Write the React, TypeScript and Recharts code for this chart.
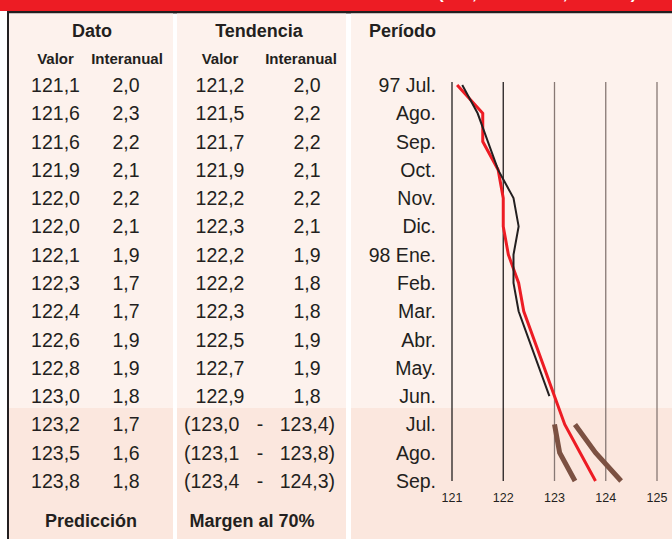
import React from 'react';
import { LineChart, Line, XAxis, YAxis, ReferenceLine } from 'recharts';

// Período (meses), valores del IPC
const periods = ['97 Jul.', 'Ago.', 'Sep.', 'Oct.', 'Nov.', 'Dic.', '98 Ene.', 'Feb.', 'Mar.', 'Abr.', 'May.', 'Jun.', 'Jul.', 'Ago.', 'Sep.'];
const datoValor = [121.1, 121.6, 121.6, 121.9, 122.0, 122.0, 122.1, 122.3, 122.4, 122.6, 122.8, 123.0, 123.2, 123.5, 123.8];
const datoInteranual = [2.0, 2.3, 2.2, 2.1, 2.2, 2.1, 1.9, 1.7, 1.7, 1.9, 1.9, 1.8, 1.7, 1.6, 1.8];
const tendValor = [121.2, 121.5, 121.7, 121.9, 122.2, 122.3, 122.2, 122.2, 122.3, 122.5, 122.7, 122.9];
const tendInteranual = [2.0, 2.2, 2.2, 2.1, 2.2, 2.1, 1.9, 1.8, 1.8, 1.9, 1.9, 1.8];
const margenInf = [123.0, 123.1, 123.4];
const margenSup = [123.4, 123.8, 124.3];
const xTicks = [121, 122, 123, 124, 125];

const predStart = tendValor.length;

const chartData = periods.map((p, i) => ({
  key: `p${i}`,
  dato: datoValor[i],
  tend: i < predStart ? tendValor[i] : null,
  lo: i >= predStart ? margenInf[i - predStart] : null,
  hi: i >= predStart ? margenSup[i - predStart] : null,
}));

const FONT = '"Liberation Sans", Arial, Helvetica, sans-serif';
const INK = '#231f20';
const RED = '#ed1c24';
const BROWN = '#7c5142';
const BG_UP = '#fdf2ed';
const BG_DOWN = '#fbe7de';

const fmt = (v: number) => v.toFixed(1).replace('.', ',');

// row centres shared by table and chart
const ROW0 = 85;
const ROWSTEP = 396 / 14;
const rowY = (i: number) => ROW0 + i * ROWSTEP;
const SPLIT = 408;

const Table = () => (
  <svg width={672} height={539} style={{ position: 'absolute', left: 0, top: 0 }} fontFamily={FONT}>
    <rect x={0} y={0} width={672} height={539} fill="#fff" />
    <rect x={0} y={0} width={672} height={11} fill={RED} />
    <text x={438} y={-1.5} fill="#fff" fontSize={17} fontWeight="bold">(IPC, base 1992, índices)</text>
    <rect x={7} y={11} width={665} height={2.5} fill={INK} />
    <rect x={7} y={11} width={2} height={528} fill={INK} />

    {[[9, 164], [177, 169], [351, 321]].map(([x, w]) => (
      <g key={x}>
        <rect x={x} y={13.5} width={w} height={SPLIT - 13.5} fill={BG_UP} />
        <rect x={x} y={SPLIT} width={w} height={539 - SPLIT} fill={BG_DOWN} />
      </g>
    ))}

    <g fill={INK} fontWeight="bold">
      <text x={92} y={37} fontSize={18} textAnchor="middle">Dato</text>
      <text x={259} y={37} fontSize={18} textAnchor="middle">Tendencia</text>
      <text x={369} y={37} fontSize={18}>Período</text>
      <text x={55.5} y={64} fontSize={15} textAnchor="middle">Valor</text>
      <text x={127} y={64} fontSize={15} textAnchor="middle">Interanual</text>
      <text x={220} y={64} fontSize={15} textAnchor="middle">Valor</text>
      <text x={301} y={64} fontSize={15} textAnchor="middle">Interanual</text>
      <text x={91} y={527} fontSize={18} textAnchor="middle">Predicción</text>
      <text x={252} y={527} fontSize={18} textAnchor="middle">Margen al 70%</text>
    </g>

    <g fill={INK} fontSize={19.5}>
      {periods.map((_, i) => {
        const y = rowY(i) + 7;
        return (
          <g key={i}>
            <text x={55.5} y={y} textAnchor="middle">{fmt(datoValor[i])}</text>
            <text x={126} y={y} textAnchor="middle">{fmt(datoInteranual[i])}</text>
            {i < predStart ? (
              <>
                <text x={220} y={y} textAnchor="middle">{fmt(tendValor[i])}</text>
                <text x={307} y={y} textAnchor="middle">{fmt(tendInteranual[i])}</text>
              </>
            ) : (
              <>
                <text x={184} y={y}>({fmt(margenInf[i - predStart])}</text>
                <text x={260} y={y} textAnchor="middle">-</text>
                <text x={335} y={y} textAnchor="end">{fmt(margenSup[i - predStart])})</text>
              </>
            )}
          </g>
        );
      })}
    </g>
  </svg>
);

const PeriodTick = (props: any) => {
  const idx = Number(String(props.payload.value).slice(1));
  return (
    <text x={85} y={props.y} dy={7} textAnchor="end" fill={INK} fontSize={19.5} fontFamily={FONT}>
      {periods[idx]}
    </text>
  );
};

const ValueTick = (props: any) => (
  <text x={props.x} y={props.y} dy={21} textAnchor="middle" fill={INK} fontSize={12.5} fontFamily={FONT}>
    {props.payload.value}
  </text>
);

export default function App() {
  return (
    <div style={{ position: 'absolute', left: 0, top: 0, width: 672, height: 539, overflow: 'hidden' }}>
      <Table />
      <div style={{ position: 'absolute', left: 351, top: 13 }}>
        <LineChart
          layout="vertical"
          width={321}
          height={526}
          data={chartData}
          margin={{ top: 69, right: 15, bottom: 0, left: 0 }}
        >
          <XAxis
            type="number"
            domain={[121, 125]}
            ticks={xTicks}
            axisLine={false}
            tickLine={false}
            tickSize={0}
            tickMargin={0}
            height={58}
            tick={<ValueTick />}
            allowDataOverflow
          />
          <YAxis
            type="category"
            dataKey="key"
            scale="point"
            padding={{ top: 3, bottom: 0 }}
            width={101}
            axisLine={false}
            tickLine={false}
            interval={0}
            tick={<PeriodTick />}
          />
          {xTicks.map((v) => (
            <ReferenceLine key={v} x={v} stroke={v <= 122 ? INK : '#877874'} strokeWidth={1.3} />
          ))}
          <Line type="linear" dataKey="lo" stroke={BROWN} strokeWidth={5} dot={false} isAnimationActive={false} />
          <Line type="linear" dataKey="hi" stroke={BROWN} strokeWidth={5} dot={false} isAnimationActive={false} />
          <Line type="linear" dataKey="dato" stroke={RED} strokeWidth={3} dot={false} isAnimationActive={false} />
          <Line type="linear" dataKey="tend" stroke={INK} strokeWidth={2} dot={false} isAnimationActive={false} />
        </LineChart>
      </div>
    </div>
  );
}
